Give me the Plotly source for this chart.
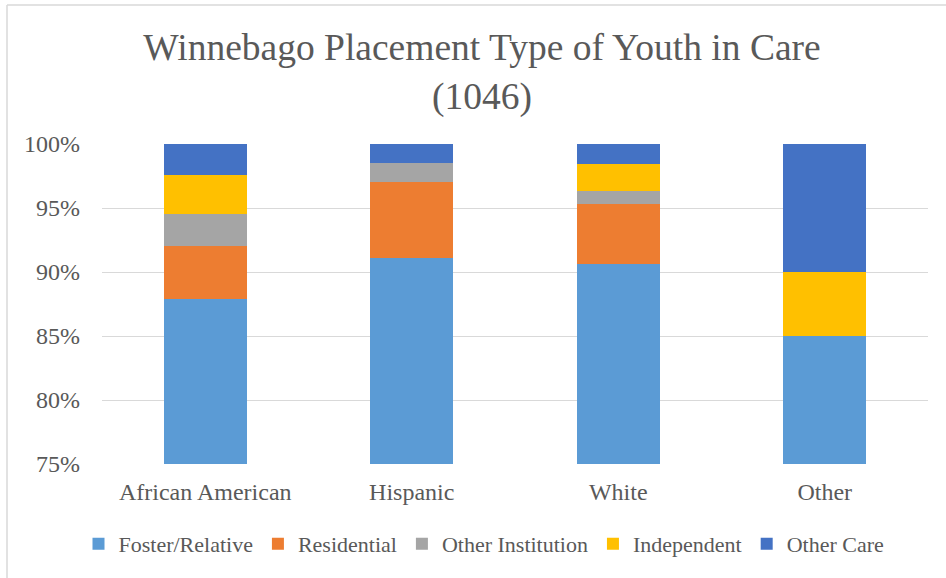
import plotly.graph_objects as go

# Share of youth in care by placement type (percent of each group)
groups = ["African American", "Hispanic", "White", "Other"]
foster_relative = [87.9, 91.1, 90.6, 85.0]
residential = [4.1, 5.9, 4.7, 0.0]
other_institution = [2.5, 1.5, 1.0, 0.0]
independent = [3.1, 0.0, 2.1, 5.0]
other_care = [2.4, 1.5, 1.6, 10.0]

series = [
    ("Foster/Relative", foster_relative, "#5B9BD5"),
    ("Residential", residential, "#ED7D31"),
    ("Other Institution", other_institution, "#A5A5A5"),
    ("Independent", independent, "#FFC000"),
    ("Other Care", other_care, "#4472C4"),
]

font_family = "Liberation Serif"
text_color = "#595959"
grid_color = "#D9D9D9"
label_size = 24
legend_size = 22

fig = go.Figure()
for name, vals, color in series:
    fig.add_trace(go.Bar(
        name=name,
        x=groups,
        y=[v / 100 for v in vals],
        marker=dict(color=color, line=dict(width=0)),
    ))

# plot area in pixels: x 102..928, y 144..464
L, R, T, B = 102, 18, 144, 114
W, H = 946, 578
pw, ph = W - L - R, H - T - B

def px_x(p):
    return (p - L) / pw

def px_y(p):
    return (H - B - p) / ph

fig.update_layout(
    width=W, height=H,
    margin=dict(l=L, r=R, t=T, b=B, autoexpand=False),
    barmode="stack",
    bargap=0.6,
    paper_bgcolor="white",
    plot_bgcolor="white",
    font=dict(family=font_family, color=text_color, size=label_size),
    title=dict(
        text="Winnebago Placement Type of Youth in Care<br>(1046)",
        x=482 / W, xanchor="center",
        y=1 - 60 / H, yanchor="middle",
        xref="container", yref="container",
        font=dict(family=font_family, size=37.5, color=text_color),
    ),
    xaxis=dict(
        showgrid=False, zeroline=False, showline=False,
        ticks="", ticklabelstandoff=11,
        tickfont=dict(family=font_family, size=label_size, color=text_color),
    ),
    yaxis=dict(
        range=[0.75, 1.0], dtick=0.05, tick0=0.75,
        tickformat=".0%",
        showgrid=True, gridcolor=grid_color, gridwidth=1,
        zeroline=False, showline=False,
        ticks="", ticklabelstandoff=21,
        tickfont=dict(family=font_family, size=label_size, color=text_color),
    ),
    legend=dict(
        orientation="h",
        x=484 / W, xref="container", xanchor="center",
        y=1 - 544 / H, yref="container", yanchor="middle",
        font=dict(family=font_family, size=legend_size, color=text_color),
        itemwidth=30,
        traceorder="normal",
    ),
    shapes=[
        dict(type="line", xref="paper", yref="paper",
             x0=px_x(7), x1=px_x(W + 5), y0=px_y(5), y1=px_y(5),
             line=dict(color=grid_color, width=1.5)),
        dict(type="line", xref="paper", yref="paper",
             x0=px_x(7), x1=px_x(7), y0=px_y(5), y1=px_y(H + 5),
             line=dict(color=grid_color, width=1.5)),
    ],
)

fig.write_html("out.html")
